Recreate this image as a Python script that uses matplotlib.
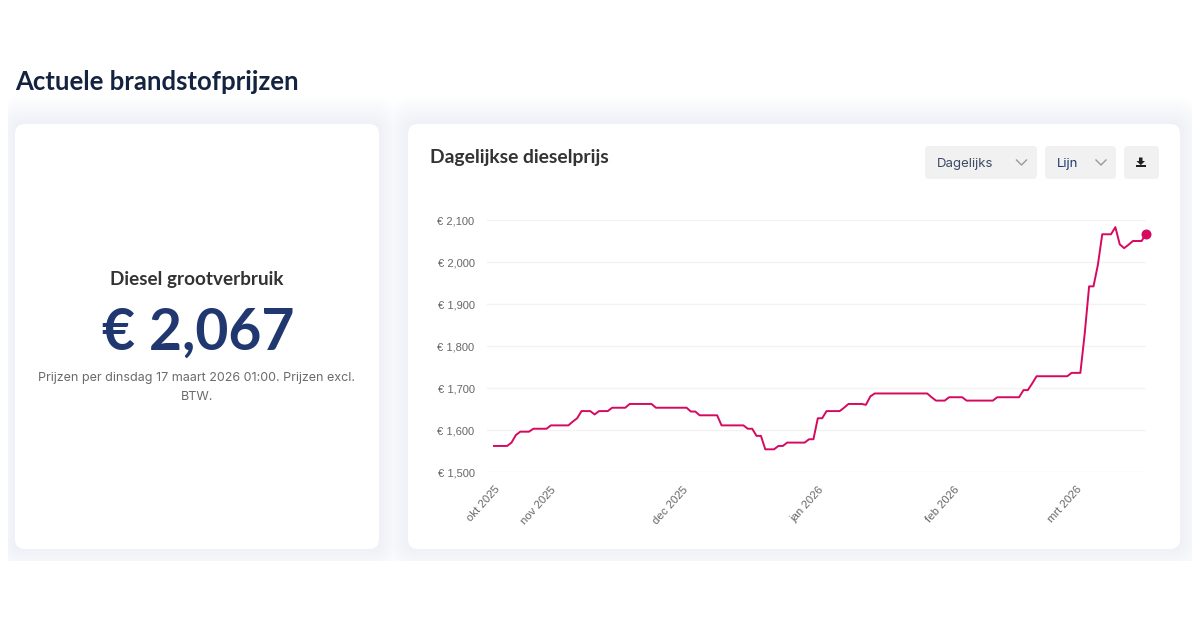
"""Actuele brandstofprijzen - card layout with the daily diesel price line."""

import matplotlib
matplotlib.use("Agg")
import matplotlib.dates as mdates
import matplotlib.pyplot as plt
import numpy as np
import pandas as pd
from matplotlib.patches import FancyBboxPatch, Polygon, Rectangle

START_DATE = "2025-10-19"

# one value per day, 19 oct 2025 - 17 mar 2026
diesel_prices = [
    1.562, 1.562, 1.562, 1.562, 1.570, 1.588, 1.596, 1.596, 1.596, 1.603,
    1.603, 1.603, 1.603, 1.611, 1.611, 1.611, 1.611, 1.611, 1.620, 1.628,
    1.645, 1.645, 1.645, 1.637, 1.645, 1.645, 1.645, 1.653, 1.653, 1.653,
    1.653, 1.662, 1.662, 1.662, 1.662, 1.662, 1.662, 1.653, 1.653, 1.653,
    1.653, 1.653, 1.653, 1.653, 1.653, 1.644, 1.644, 1.635, 1.635, 1.635,
    1.635, 1.635, 1.611, 1.611, 1.611, 1.611, 1.611, 1.611, 1.603, 1.603,
    1.586, 1.586, 1.554, 1.554, 1.554, 1.562, 1.562, 1.570, 1.570, 1.570,
    1.570, 1.570, 1.578, 1.578, 1.628, 1.628, 1.645, 1.645, 1.645, 1.645,
    1.653, 1.662, 1.662, 1.662, 1.662, 1.660, 1.680, 1.687, 1.687, 1.687,
    1.687, 1.687, 1.687, 1.687, 1.687, 1.687, 1.687, 1.687, 1.687, 1.687,
    1.678, 1.670, 1.670, 1.670, 1.678, 1.678, 1.678, 1.678, 1.670, 1.670,
    1.670, 1.670, 1.670, 1.670, 1.670, 1.678, 1.678, 1.678, 1.678, 1.678,
    1.678, 1.695, 1.695, 1.711, 1.728, 1.728, 1.728, 1.728, 1.728, 1.728,
    1.728, 1.728, 1.736, 1.736, 1.736, 1.830, 1.942, 1.942, 1.993, 2.066,
    2.066, 2.066, 2.083, 2.042, 2.033, 2.041, 2.050, 2.050, 2.050, 2.067,
]

tick_dates = ["2025-10-19", "2025-11-01", "2025-12-01", "2026-01-01", "2026-02-01", "2026-03-01"]
tick_labels = ["okt 2025", "nov 2025", "dec 2025", "jan 2026", "feb 2026", "mrt 2026"]
y_ticks = [1.5, 1.6, 1.7, 1.8, 1.9, 2.0, 2.1]

LINE_COLOR = "#d6085f"
NARROW = ["Lato", "Roboto", "DejaVu Sans"]
BODY = ["Inter", "DejaVu Sans"]
W, H = 1200, 628
SHADOW_SIZE = 30
SHADOW_EDGE = np.array([239, 240, 246]) / 255


def _card(ax, x0, y0, x1, y1, radius=10, **kw):
    patch = FancyBboxPatch(
        (x0 + radius, y0 + radius), x1 - x0 - 2 * radius, y1 - y0 - 2 * radius,
        boxstyle=f"round,pad={radius},rounding_size={radius}", linewidth=0, **kw,
    )
    ax.add_patch(patch)
    return patch


def _draw_page(ax):
    ax.set_xlim(0, W)
    ax.set_ylim(H, 0)
    ax.axis("off")

    # soft shadow behind both cards, cut off by the section box
    # opaque rings, very low alpha rounds badly in agg and turns grey
    clip = Rectangle((8, 90), 1184, 471, transform=ax.transData)
    for grow in range(SHADOW_SIZE, 0, -1):
        t = 1 - grow / SHADOW_SIZE
        color = 1 - t * (1 - SHADOW_EDGE)
        for x0, x1 in [(15, 379), (408, 1180)]:
            p = _card(ax, x0 - grow, 124 - grow, x1 + grow, 549 + grow,
                      radius=10 + grow, facecolor=color)
            p.set_clip_path(clip)
    _card(ax, 15, 124, 379, 549, facecolor="white")
    _card(ax, 408, 124, 1180, 549, facecolor="white")

    ax.text(15, 82, "Actuele brandstofprijzen", fontsize=18.5, fontweight="bold",
            color="#14233f", family=NARROW, va="center")
    ax.text(197, 279, "Diesel grootverbruik", fontsize=13.6, fontweight="bold",
            color="#333333", family=NARROW, va="center", ha="center")
    ax.text(198, 333, "€ 2,067", fontsize=41, fontweight="bold",
            color="#21376f", family=NARROW, va="center", ha="center")
    ax.text(197, 378.5, "Prijzen per dinsdag 17 maart 2026 01:00. Prijzen excl.", fontsize=9.05,
            color="#6b6b6b", family=BODY, va="center", ha="center")
    ax.text(197, 397.5, "BTW.", fontsize=9.05, color="#6b6b6b", family=BODY, va="center", ha="center")
    ax.text(430, 158, "Dagelijkse dieselprijs", fontsize=13.9, fontweight="bold",
            color="#333333", family=NARROW, va="center")

    # dropdowns and download button
    for x0, x1 in [(925, 1037), (1045, 1116), (1124, 1159)]:
        _card(ax, x0, 146, x1, 179, radius=4, facecolor="#f1f1f1")
    ax.text(937, 163.5, "Dagelijks", fontsize=9.5, color="#3d4a63", family=BODY, va="center")
    ax.text(1057, 163.5, "Lijn", fontsize=9.5, color="#1f3a68", family=BODY, va="center")
    for cx in (1021.5, 1101):
        ax.plot([cx - 5, cx, cx + 5], [160, 165, 160], color="#9a9a9a", lw=1)

    # download icon
    ax.add_patch(Polygon([(1139, 157.5), (1142.5, 157.5), (1142.5, 161), (1145, 161),
                          (1140.8, 165.2), (1136.5, 161), (1139, 161)],
                         facecolor="#222222", linewidth=0))
    ax.add_patch(Rectangle((1136, 165), 10, 2, facecolor="#222222", linewidth=0))


def _draw_chart(fig, dates, prices):
    px_per_day = (1146 - 494) / (len(prices) - 1)
    ax = fig.add_axes([487 / W, 1 - 472 / H, (1146 - 487) / W, (472 - 220) / H])
    ax.patch.set_alpha(0)
    ax.plot(dates, prices, color=LINE_COLOR, lw=1.4, solid_joinstyle="round", zorder=3)
    ax.plot(dates[-1], prices[-1], "o", color=LINE_COLOR, ms=7.2, mew=0, clip_on=False, zorder=4)

    first = mdates.date2num(dates[0])
    ax.set_xlim(first - (494 - 487) / px_per_day, mdates.date2num(dates[-1]))
    ax.set_ylim(min(y_ticks), max(y_ticks))

    ax.set_yticks(y_ticks)
    ax.set_yticklabels([f"€ {v:.3f}".replace(".", ",") for v in y_ticks],
                       fontsize=8, color="#666666", family="Liberation Sans")
    ax.set_xticks(mdates.date2num(pd.to_datetime(tick_dates)))
    ax.set_xticklabels(tick_labels, rotation=48, ha="right", rotation_mode="anchor",
                       fontsize=8.2, color="#666666", family="Liberation Sans")
    ax.tick_params(axis="both", length=0)
    ax.tick_params(axis="y", pad=9)
    ax.tick_params(axis="x", pad=9)
    ax.grid(axis="y", color="#f3f3f3", lw=1)
    ax.set_axisbelow(True)
    for spine in ax.spines.values():
        spine.set_visible(False)


def main():
    dates = pd.date_range(START_DATE, periods=len(diesel_prices), freq="D")
    prices = np.array(diesel_prices)

    fig = plt.figure(figsize=(W / 100, H / 100), dpi=100, facecolor="white")
    bg = fig.add_axes([0, 0, 1, 1])
    _draw_page(bg)
    _draw_chart(fig, dates, prices)
    fig.savefig("out.png", dpi=100)


if __name__ == "__main__":
    main()
